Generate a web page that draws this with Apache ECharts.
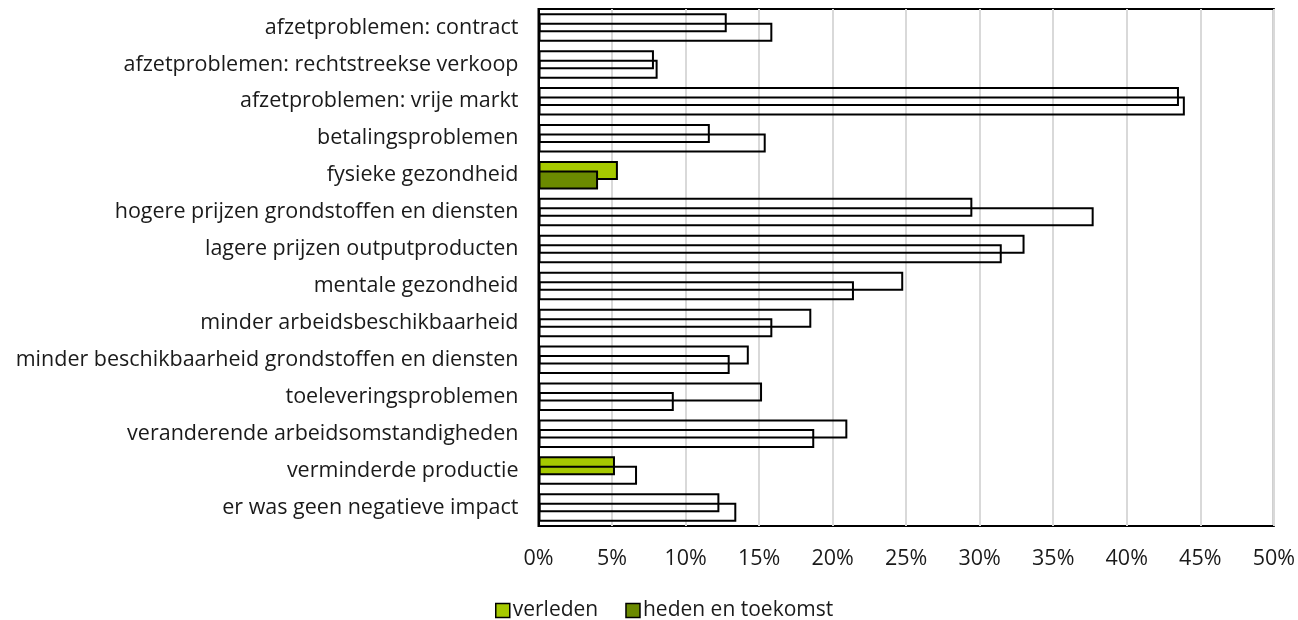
<!DOCTYPE html>
<html>
<head>
<meta charset="utf-8">
<script src="https://cdn.jsdelivr.net/npm/echarts@6/dist/echarts.min.js"></script>
<style>html,body{margin:0;padding:0;background:#fff;}#c{width:1298px;height:620px;}</style>
</head>
<body>
<div id="c"></div>
<script>
const categories = [
  'afzetproblemen: contract',
  'afzetproblemen: rechtstreekse verkoop',
  'afzetproblemen: vrije markt',
  'betalingsproblemen',
  'fysieke gezondheid',
  'hogere prijzen grondstoffen en diensten',
  'lagere prijzen outputproducten',
  'mentale gezondheid',
  'minder arbeidsbeschikbaarheid',
  'minder beschikbaarheid grondstoffen en diensten',
  'toeleveringsproblemen',
  'veranderende arbeidsomstandigheden',
  'verminderde productie',
  'er was geen negatieve impact'
];
const verleden = [12.8, 7.85, 43.55, 11.65, 5.4, 29.5, 33.05, 24.8, 18.55, 14.3, 15.2, 21.0, 5.2, 12.3];
const hedenEnToekomst = [15.9, 8.1, 43.95, 15.45, 4.05, 37.75, 31.5, 21.45, 15.9, 13.0, 9.2, 18.75, 6.7, 13.45];
const filledVerleden = ['fysieke gezondheid', 'verminderde productie'];
const filledHeden = ['fysieke gezondheid'];
const tickValues = [0, 5, 10, 15, 20, 25, 30, 35, 40, 45, 50];

const lightGreen = '#a6c900';
const darkGreen = '#6b8a00';
const font = 'Open Sans';

function items(vals, filledCats) {
  return vals.map((v, i) => ({
    value: v,
    itemStyle: { color: filledCats.includes(categories[i]) ? undefined : 'rgba(0,0,0,0)' }
  }));
}

const chart = echarts.init(document.getElementById('c'), null, { renderer: 'canvas' });
chart.setOption({
  animation: false,
  textStyle: { fontFamily: font },
  grid: { left: 538.5, right: 22, top: 9, bottom: 94, show: true, borderColor: '#000', borderWidth: 2, backgroundColor: 'transparent' },
  legend: {
    left: 490, top: 595,
    icon: 'rect', itemWidth: 14, itemHeight: 14, itemGap: 27,
    textStyle: { fontFamily: font, fontSize: 21, color: '#1a1a1a', padding: [0, 0, 0, -2] },
    itemStyle: { borderColor: '#000', borderWidth: 1.5 },
    data: ['verleden', 'heden en toekomst']
  },
  xAxis: {
    type: 'value', min: 0, max: 50, interval: 5,
    axisLine: { show: false }, axisTick: { show: false },
    axisLabel: { formatter: v => tickValues.includes(v) ? v + '%' : '', fontFamily: font, fontSize: 21.5, color: '#1a1a1a', margin: 22 },
    splitLine: { show: true, lineStyle: { color: '#d9d9d9', width: 2 } }
  },
  yAxis: {
    type: 'category', data: categories, inverse: true,
    axisLine: { show: true, lineStyle: { color: '#000', width: 2 } },
    axisTick: { show: false },
    axisLabel: { fontFamily: font, fontSize: 21.5, color: '#1a1a1a', margin: 20 }
  },
  series: [
    {
      name: 'verleden', type: 'bar', barWidth: 19, barGap: '-50%',
      itemStyle: { color: lightGreen, borderColor: '#000', borderWidth: 2 },
      data: items(verleden, filledVerleden)
    },
    {
      name: 'heden en toekomst', type: 'bar', barWidth: 19, barGap: '-50%',
      itemStyle: { color: darkGreen, borderColor: '#000', borderWidth: 2 },
      data: items(hedenEnToekomst, filledHeden)
    }
  ]
});
</script>
</body>
</html>
